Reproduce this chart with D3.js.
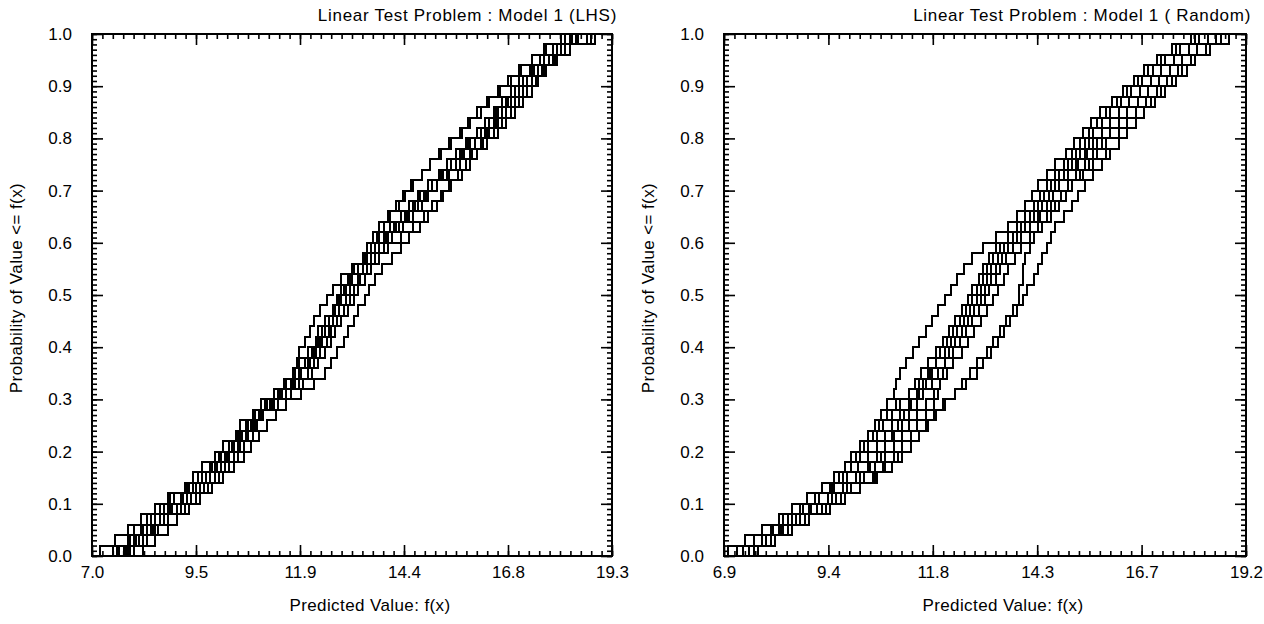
<!DOCTYPE html>
<html><head><meta charset="utf-8">
<script src="https://cdn.jsdelivr.net/npm/d3@7"></script>
<style>
body{margin:0;background:#fff}
text{font-family:"Liberation Sans",Arial,sans-serif;fill:#000}
</style>
</head><body><svg id="chart" width="1264" height="624"></svg>
<script>
// Sorted sample values of each replicate (empirical CDF, 50 samples each)
const lhsSamples = [
 [7.5,7.85,8.0,8.3,8.6,8.8,9.2,9.4,9.6,9.9,10.1,10.4,10.5,10.8,11.0,11.3,11.55,11.8,11.9,12.1,12.3,12.35,12.5,12.7,12.8,12.9,13.1,13.2,13.45,13.5,13.65,13.8,14.0,14.2,14.35,14.55,14.8,15.0,15.2,15.45,15.7,15.9,16.1,16.35,16.6,16.85,17.1,17.4,17.75,18.2],
 [8.2,8.5,8.8,9.0,9.3,9.55,9.85,10.1,10.35,10.6,10.75,10.95,11.15,11.35,11.6,11.95,12.25,12.5,12.65,12.8,12.95,13.05,13.2,13.3,13.45,13.55,13.7,13.85,14.1,14.3,14.5,14.75,14.95,15.15,15.3,15.5,15.75,15.95,16.1,16.35,16.6,16.8,17.0,17.2,17.4,17.55,17.75,18.0,18.3,18.9],
 [7.65,8.0,8.2,8.5,8.8,9.1,9.3,9.6,9.85,10.05,10.25,10.45,10.7,10.85,11.1,11.4,11.7,11.9,12.05,12.2,12.35,12.45,12.6,12.75,12.9,13.0,13.15,13.3,13.5,13.7,13.9,14.15,14.4,14.6,14.75,14.95,15.2,15.4,15.6,15.85,16.1,16.3,16.5,16.7,16.9,17.1,17.35,17.6,17.9,18.2],
 [7.9,8.2,8.45,8.7,9.0,9.25,9.55,9.8,10.05,10.25,10.45,10.65,10.85,11.05,11.3,11.6,11.9,12.1,12.25,12.4,12.55,12.65,12.8,12.95,13.1,13.2,13.35,13.5,13.7,13.9,14.1,14.35,14.6,14.8,14.95,15.15,15.4,15.6,15.8,16.05,16.3,16.5,16.7,16.9,17.1,17.3,17.55,17.8,18.1,18.5],
 [7.75,8.1,8.3,8.6,8.9,9.1,9.45,9.7,9.9,10.15,10.3,10.55,10.75,10.95,11.2,11.45,11.6,11.75,11.85,11.9,12.05,12.15,12.25,12.4,12.55,12.7,12.9,13.15,13.45,13.7,14.0,14.2,14.45,14.7,14.85,15.05,15.25,15.5,15.7,15.9,16.2,16.4,16.55,16.8,17.0,17.2,17.4,17.7,18.0,18.35],
 [7.85,8.2,8.5,8.8,9.2,9.45,9.75,10.0,10.25,10.45,10.6,10.8,10.9,11.0,11.15,11.4,11.7,11.9,12.05,12.2,12.35,12.45,12.6,12.75,12.9,13.0,13.15,13.3,13.5,13.7,13.95,14.2,14.45,14.7,14.9,15.15,15.45,15.7,15.95,16.25,16.5,16.7,16.9,17.1,17.3,17.5,17.7,17.95,18.2,18.7],
 [7.8,8.05,8.4,8.6,8.85,9.15,9.4,9.7,9.95,10.2,10.35,10.5,10.75,10.95,11.25,11.5,11.8,11.95,12.15,12.3,12.45,12.6,12.7,12.85,13.0,13.1,13.3,13.4,13.6,13.8,14.0,14.25,14.5,14.65,14.85,15.05,15.3,15.5,15.7,15.95,16.2,16.4,16.6,16.8,17.0,17.2,17.45,17.7,18.0,18.45],
 [7.6,7.9,8.15,8.4,8.7,8.95,9.25,9.5,9.8,10.0,10.3,10.55,10.8,11.05,11.4,11.7,12.0,12.2,12.35,12.5,12.65,12.75,12.9,13.05,13.2,13.3,13.45,13.6,13.8,14.0,14.3,14.6,14.85,15.05,15.25,15.45,15.65,15.85,16.0,16.2,16.4,16.55,16.7,16.85,17.0,17.2,17.45,17.7,18.0,18.3],
 [8.0,8.3,8.55,8.8,9.1,9.35,9.65,9.9,10.15,10.35,10.5,10.7,10.85,11.0,11.2,11.5,11.75,11.95,12.1,12.25,12.4,12.5,12.6,12.75,12.85,12.95,13.05,13.2,13.4,13.6,13.8,14.05,14.3,14.5,14.7,14.95,15.25,15.5,15.75,16.05,16.35,16.6,16.8,17.0,17.2,17.4,17.65,17.9,18.2,18.8],
 [7.2,7.55,7.85,8.15,8.5,8.85,9.2,9.5,9.8,10.05,10.25,10.45,10.65,10.85,11.1,11.4,11.7,11.9,12.05,12.2,12.35,12.45,12.6,12.75,12.9,13.0,13.15,13.3,13.5,13.6,13.75,13.9,14.05,14.25,14.4,14.6,14.8,15.0,15.25,15.5,15.75,15.95,16.2,16.4,16.65,16.9,17.15,17.4,17.7,18.1]
];
const randomSamples = [
 [7.2,7.6,8.0,8.4,8.7,9.05,9.4,9.6,9.75,9.9,10.1,10.3,10.45,10.6,10.75,10.9,10.95,11.05,11.2,11.35,11.5,11.65,11.8,11.95,12.1,12.25,12.4,12.55,12.75,13.0,13.3,13.6,13.8,14.0,14.15,14.3,14.5,14.7,14.95,15.15,15.35,15.55,15.75,16.05,16.3,16.55,16.8,17.1,17.45,17.9],
 [7.5,7.9,8.3,8.7,9.2,9.65,10.1,10.5,10.85,11.1,11.3,11.5,11.65,11.85,12.05,12.35,12.6,12.85,13.0,13.2,13.35,13.5,13.65,13.8,13.95,14.05,14.2,14.3,14.4,14.5,14.6,14.7,14.9,15.1,15.25,15.4,15.6,15.8,16.0,16.2,16.2,16.4,16.6,16.85,17.1,17.35,17.6,17.9,18.25,18.6],
 [7.7,8.1,8.5,8.9,9.3,9.75,10.1,10.45,10.7,11.0,11.3,11.5,11.7,11.9,12.1,12.35,12.5,12.7,12.85,13.1,13.25,13.4,13.55,13.7,13.85,13.85,13.95,13.95,14.0,14.1,14.2,14.4,14.6,14.8,14.95,15.1,15.3,15.5,15.7,15.9,16.2,16.4,16.6,16.95,17.2,17.45,17.7,18.0,18.35,18.8],
 [7.5,7.9,8.2,8.5,8.9,9.15,9.45,9.7,9.9,10.1,10.3,10.5,10.65,10.85,11.05,11.25,11.4,11.55,11.7,11.9,12.05,12.2,12.35,12.5,12.65,12.75,12.9,13.0,13.15,13.3,13.6,13.8,14.0,14.2,14.35,14.5,14.7,14.9,15.1,15.3,15.5,15.7,15.9,16.15,16.4,16.65,16.9,17.2,17.55,18.0],
 [7.35,7.8,8.25,8.6,8.95,9.35,9.7,10.0,10.3,10.5,10.7,10.9,11.1,11.25,11.45,11.6,11.8,11.95,12.1,12.3,12.45,12.6,12.75,12.9,13.05,13.15,13.3,13.4,13.55,13.7,13.9,14.1,14.3,14.5,14.65,14.8,15.0,15.2,15.4,15.6,15.8,16.0,16.2,16.45,16.7,16.95,17.2,17.5,17.85,18.3],
 [7.6,8.0,8.4,8.8,9.2,9.55,9.9,10.2,10.45,10.7,10.9,11.1,11.25,11.45,11.65,11.85,12.0,12.15,12.3,12.5,12.65,12.8,12.95,13.1,13.25,13.35,13.5,13.6,13.75,13.9,14.1,14.3,14.5,14.7,14.85,15.0,15.2,15.4,15.6,15.8,16.0,16.2,16.4,16.65,16.9,17.15,17.4,17.7,18.05,18.5],
 [7.0,7.4,7.8,8.2,8.75,9.15,9.5,9.8,10.05,10.3,10.5,10.7,10.85,11.05,11.25,11.45,11.6,11.75,11.9,12.1,12.25,12.4,12.55,12.7,12.85,12.95,13.1,13.2,13.35,13.5,13.7,13.9,14.1,14.3,14.45,14.6,14.8,15.0,15.2,15.4,15.6,15.8,16.0,16.25,16.5,16.75,17.0,17.3,17.65,18.1],
 [7.5,8.0,8.4,8.9,9.4,9.75,10.1,10.4,10.65,10.9,11.1,11.3,11.45,11.65,11.85,11.95,12.0,12.05,12.1,12.3,12.45,12.6,12.75,12.9,13.05,13.15,13.3,13.4,13.55,13.7,13.9,14.1,14.3,14.5,14.65,14.7,14.9,15.1,15.3,15.5,15.6,15.8,16.0,16.25,16.5,16.75,17.0,17.3,17.65,18.1],
 [7.5,7.8,8.05,8.3,8.5,8.85,9.2,9.5,9.75,10.0,10.2,10.4,10.55,10.75,10.95,11.25,11.5,11.7,11.9,12.2,12.35,12.5,12.65,12.8,12.95,13.05,13.2,13.3,13.45,13.6,13.8,14.0,14.2,14.4,14.55,14.8,15.0,15.25,15.45,15.7,16.0,16.2,16.4,16.65,16.9,17.15,17.4,17.7,18.05,18.5],
 [7.5,7.9,8.3,8.7,9.1,9.45,9.8,10.1,10.35,10.6,10.7,10.85,11.0,11.15,11.3,11.5,11.65,11.8,11.9,12.0,12.15,12.3,12.45,12.6,12.75,12.85,13.0,13.1,13.25,13.4,13.8,14.1,14.35,14.6,14.85,15.1,15.35,15.6,15.9,16.2,16.4,16.6,16.8,17.05,17.3,17.55,17.8,18.0,18.35,18.8]
];
const lhsXDomain = [7.0, 19.3];
const randomXDomain = [6.9, 19.2];
const lhsXTickLabels = ["7.0","9.5","11.9","14.4","16.8","19.3"];
const randomXTickLabels = ["6.9","9.4","11.8","14.3","16.7","19.2"];
const yTickLabels = ["0.0","0.1","0.2","0.3","0.4","0.5","0.6","0.7","0.8","0.9","1.0"];
const titles = ["Linear Test Problem : Model 1 (LHS)", "Linear Test Problem : Model 1 ( Random)"];
const xTitle = "Predicted Value: f(x)";
const yTitle = "Probability of Value <= f(x)";

const svg = d3.select("#chart");
const plotTop = 34, plotBottom = 556;
const panels = [
  {samples: lhsSamples, domain: lhsXDomain, labels: lhsXTickLabels, title: titles[0], left: 92, right: 612},
  {samples: randomSamples, domain: randomXDomain, labels: randomXTickLabels, title: titles[1], left: 724, right: 1246}
];
const FONT = 17;

panels.forEach(p => {
  const g = svg.append("g");
  const x = d3.scaleLinear().domain(p.domain).range([p.left, p.right]);
  const y = d3.scaleLinear().domain([0, 1]).range([plotBottom, plotTop]);
  const span = p.domain[1] - p.domain[0];
  const xMajor = d3.range(6).map(i => p.domain[0] + i * span / 5);
  const xMinor = d3.range(51).map(i => p.domain[0] + i * span / 50);
  const yMajor = d3.range(11).map(i => i / 10);
  const yMinor = d3.range(101).map(i => i / 100);

  const line = d3.line().x(d => x(d[0])).y(d => y(d[1]));
  p.samples.forEach(s => {
    const n = s.length;
    const pts = [[p.domain[0], 0]];
    s.forEach((v, k) => { pts.push([v, k / n]); pts.push([v, (k + 1) / n]); });
    pts.push([p.domain[1], 1]);
    g.append("path").attr("d", line(pts)).attr("fill", "none")
      .attr("stroke", "#000").attr("stroke-width", 2).attr("shape-rendering", "crispEdges");
  });

  const style = sel => { sel.select(".domain").remove(); sel.selectAll("line").attr("stroke", "#000").attr("stroke-width", 1.6); sel.selectAll("text").style("font-size", FONT + "px").attr("fill", "#000"); };

  g.append("g").attr("transform", `translate(0,${plotBottom})`)
    .call(d3.axisBottom(x).tickValues(xMinor).tickSize(-5).tickFormat("")).call(style);
  g.append("g").attr("transform", `translate(0,${plotBottom})`)
    .call(d3.axisBottom(x).tickValues(xMajor).tickSize(-11).tickPadding(10).tickFormat((d, i) => p.labels[i])).call(style);
  g.append("g").attr("transform", `translate(0,${plotTop})`)
    .call(d3.axisTop(x).tickValues(xMinor).tickSize(-5).tickFormat("")).call(style);
  g.append("g").attr("transform", `translate(0,${plotTop})`)
    .call(d3.axisTop(x).tickValues(xMajor).tickSize(-11).tickFormat("")).call(style);
  g.append("g").attr("transform", `translate(${p.left},0)`)
    .call(d3.axisLeft(y).tickValues(yMinor).tickSize(-5).tickFormat("")).call(style);
  g.append("g").attr("transform", `translate(${p.left},0)`)
    .call(d3.axisLeft(y).tickValues(yMajor).tickSize(-11).tickPadding(20).tickFormat((d, i) => yTickLabels[i])).call(style);
  g.append("g").attr("transform", `translate(${p.right},0)`)
    .call(d3.axisRight(y).tickValues(yMinor).tickSize(-5).tickFormat("")).call(style);
  g.append("g").attr("transform", `translate(${p.right},0)`)
    .call(d3.axisRight(y).tickValues(yMajor).tickSize(-11).tickFormat("")).call(style);

  g.append("rect").attr("x", p.left).attr("y", plotTop).attr("width", p.right - p.left).attr("height", plotBottom - plotTop)
    .attr("fill", "none").attr("stroke", "#000").attr("stroke-width", 2);

  g.append("text").attr("x", p.right + 5).attr("y", 21).attr("text-anchor", "end")
    .style("font-size", FONT + "px").style("letter-spacing", "0.7px").text(p.title);
  g.append("text").attr("x", (p.left + p.right) / 2 + 18).attr("y", 611).attr("text-anchor", "middle")
    .style("font-size", FONT + "px").style("letter-spacing", "0.4px").text(xTitle);
  g.append("text").attr("transform", `translate(${p.left - 70},288) rotate(-90)`)
    .attr("text-anchor", "middle").style("font-size", FONT + "px").style("letter-spacing", "0.4px").text(yTitle);
});
</script>
</body></html>
